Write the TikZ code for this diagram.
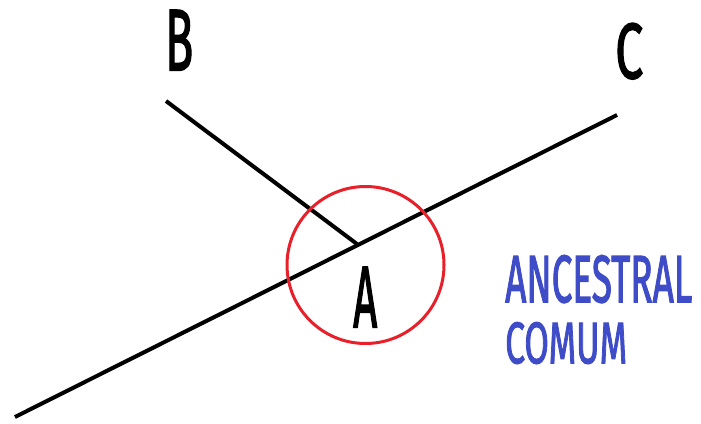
\documentclass[tikz,border=0pt]{standalone}
\usepackage{fontspec}
\setmainfont{Fira Sans}
\newfontfamily\semifont[FakeBold=2.2]{Fira Sans}
\usepackage{graphicx}
\definecolor{circred}{HTML}{E8202A}
\definecolor{labelblue}{HTML}{3F4CC8}
\tikzset{
  branch/.style={line width=4pt, black},
  lbl/.style={inner sep=0pt, anchor=north west, font=\semifont},
}
\begin{document}
\begin{tikzpicture}[x=1pt,y=-1pt]
\useasboundingbox (0,0) rectangle (701,423);
\coordinate (root) at (15,417);
\coordinate (cend) at (617,115);
\coordinate (bend) at (166,101);
\coordinate (junc) at (357,244);
\draw[branch] (root) -- (cend);
\draw[branch] (bend) -- (junc);
\node[draw=circred, line width=3pt, circle, minimum size=157pt, inner sep=0pt] (circ) at (365.5,265) {};
\node[lbl] (B) at (165,10) {\resizebox{28pt}{60pt}{B}};
\node[lbl] (C) at (615,23) {\resizebox{28pt}{55pt}{C}};
\node[lbl] (A) at (353,267) {\resizebox{24pt}{60pt}{A}};
\node[lbl, text=labelblue] (anc) at (505,255) {\resizebox{187pt}{47pt}{ANCESTRAL}};
\node[lbl, text=labelblue] (com) at (505,322) {\resizebox{122pt}{41pt}{COMUM}};
\end{tikzpicture}
\end{document}
